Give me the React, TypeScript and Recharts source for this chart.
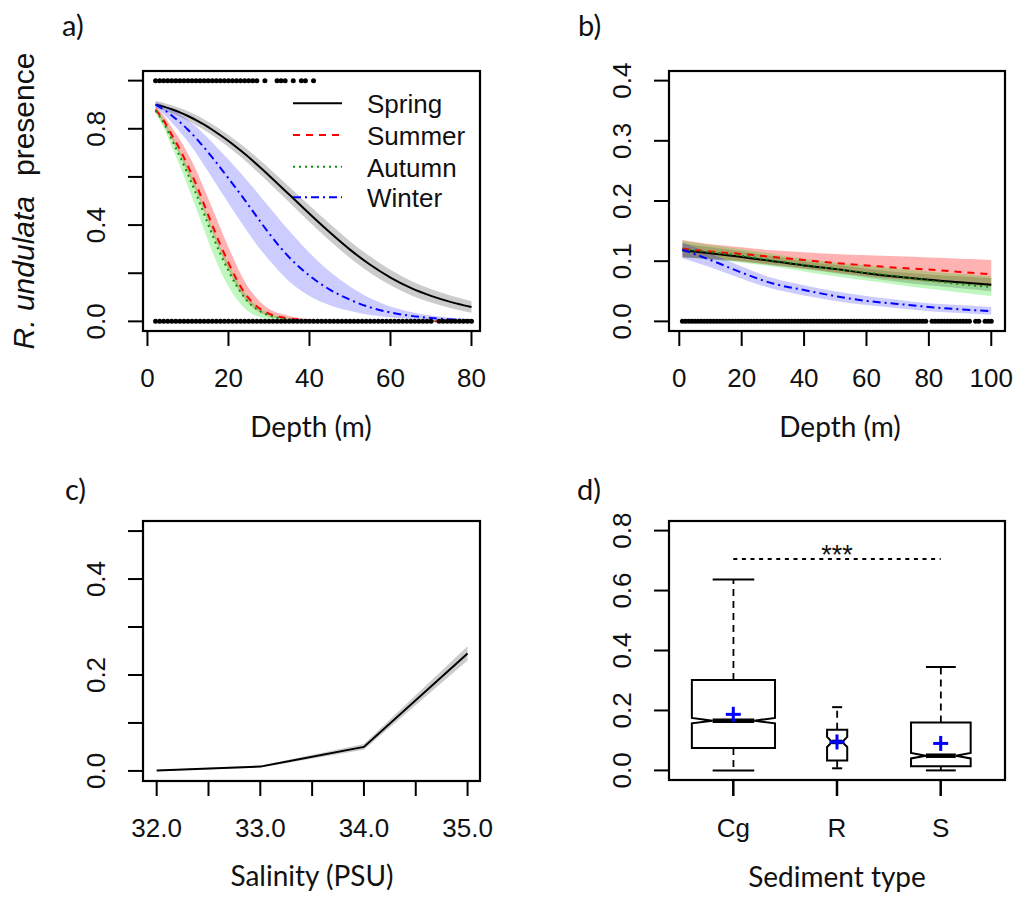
import React from 'react';
import {
  ComposedChart, Line, Area, Scatter, Bar, XAxis, YAxis, ReferenceLine,
} from 'recharts';

const SANS = '"Liberation Sans", Arial, sans-serif';
const CAL = 'Lato, "Open Sans", sans-serif';
const INK = '#111';

// ---------------- Panel a: depth response by season (0-80 m) ----------------
const depthA = [2, 4, 6, 8, 10, 12, 14, 16, 18, 20, 22, 24, 26, 28, 30, 35, 40, 45, 50, 55, 60, 65, 70, 75, 80];
const springA = [0.90, 0.892, 0.881, 0.868, 0.853, 0.836, 0.817, 0.796, 0.773, 0.749, 0.723, 0.696, 0.667, 0.637, 0.606, 0.527, 0.447, 0.37, 0.298, 0.235, 0.182, 0.139, 0.106, 0.08, 0.06];
const springLoA = [0.885, 0.876, 0.864, 0.85, 0.833, 0.815, 0.795, 0.773, 0.749, 0.724, 0.697, 0.669, 0.639, 0.608, 0.576, 0.495, 0.413, 0.335, 0.263, 0.201, 0.15, 0.109, 0.078, 0.055, 0.036];
const springHiA = [0.915, 0.908, 0.898, 0.886, 0.873, 0.857, 0.839, 0.819, 0.797, 0.774, 0.749, 0.723, 0.695, 0.666, 0.636, 0.559, 0.481, 0.405, 0.333, 0.269, 0.214, 0.169, 0.134, 0.106, 0.084];
const summerA = [0.88, 0.835, 0.775, 0.715, 0.645, 0.57, 0.485, 0.4, 0.318, 0.243, 0.175, 0.118, 0.078, 0.05, 0.032, 0.012, 0.005, 0.002, 0.001, 0, 0, 0, 0, 0, 0];
const summerLoA = [0.87, 0.82, 0.755, 0.69, 0.615, 0.54, 0.455, 0.37, 0.288, 0.213, 0.147, 0.094, 0.058, 0.035, 0.02, 0.006, 0.002, 0.001, 0, 0, 0, 0, 0, 0, 0];
const summerHiA = [0.89, 0.855, 0.805, 0.755, 0.695, 0.63, 0.55, 0.47, 0.388, 0.308, 0.233, 0.166, 0.116, 0.078, 0.052, 0.022, 0.009, 0.004, 0.002, 0.001, 0, 0, 0, 0, 0];
const autumnA = [0.875, 0.825, 0.755, 0.685, 0.61, 0.53, 0.445, 0.36, 0.28, 0.21, 0.148, 0.098, 0.063, 0.04, 0.025, 0.009, 0.003, 0.001, 0, 0, 0, 0, 0, 0, 0];
const autumnLoA = [0.865, 0.805, 0.725, 0.645, 0.56, 0.47, 0.38, 0.29, 0.21, 0.145, 0.093, 0.055, 0.03, 0.016, 0.009, 0.003, 0.001, 0, 0, 0, 0, 0, 0, 0, 0];
const autumnHiA = [0.885, 0.84, 0.775, 0.71, 0.64, 0.56, 0.475, 0.39, 0.31, 0.238, 0.174, 0.12, 0.08, 0.052, 0.033, 0.013, 0.005, 0.002, 0.001, 0, 0, 0, 0, 0, 0];
const winterA = [0.90, 0.88, 0.855, 0.828, 0.796, 0.761, 0.722, 0.681, 0.638, 0.594, 0.55, 0.505, 0.458, 0.411, 0.366, 0.266, 0.19, 0.132, 0.09, 0.058, 0.037, 0.023, 0.014, 0.008, 0.005];
const winterLoA = [0.888, 0.86, 0.825, 0.788, 0.746, 0.699, 0.647, 0.596, 0.543, 0.491, 0.44, 0.39, 0.341, 0.296, 0.256, 0.166, 0.105, 0.067, 0.043, 0.026, 0.016, 0.01, 0.006, 0.003, 0.002];
const winterHiA = [0.912, 0.898, 0.88, 0.86, 0.836, 0.809, 0.777, 0.743, 0.708, 0.672, 0.635, 0.597, 0.558, 0.516, 0.476, 0.376, 0.285, 0.207, 0.145, 0.096, 0.062, 0.039, 0.024, 0.015, 0.01];
const presenceDepthsA = [2, 3, 4, 5, 6, 7, 8, 9, 10, 11, 12, 13, 14, 15, 16, 17, 18, 19, 20, 21, 22, 23, 24, 25, 26, 27, 29, 32, 33, 34, 36, 38, 39, 41];
const absenceDepthsA = [2, 3, 4, 5, 6, 7, 8, 9, 10, 11, 12, 13, 14, 15, 16, 17, 18, 19, 20, 21, 22, 23, 24, 25, 26, 27, 28, 29, 30, 31, 32, 33, 34, 35, 36, 37, 38, 39, 40, 41, 42, 43, 44, 45, 46, 47, 48, 49, 50, 51, 52, 53, 54, 55, 56, 57, 58, 59, 60, 61, 62, 63, 64, 65, 66, 67, 68, 69, 70, 72, 73, 74, 75, 76, 77, 78, 79, 80];
const xTicksA = [0, 20, 40, 60, 80];
const yTicksA = [0, 0.2, 0.4, 0.6, 0.8, 1.0];
const yLabelsA = [0, 0.4, 0.8];

// ---------------- Panel b: depth response (0-100 m) ----------------
const depthB = [1, 10, 20, 30, 40, 50, 60, 70, 80, 90, 100];
const springB = [0.118, 0.113, 0.107, 0.100, 0.093, 0.087, 0.080, 0.074, 0.069, 0.065, 0.061];
const springLoB = [0.106, 0.103, 0.099, 0.093, 0.087, 0.080, 0.073, 0.066, 0.060, 0.055, 0.050];
const springHiB = [0.130, 0.123, 0.116, 0.108, 0.100, 0.094, 0.088, 0.082, 0.078, 0.075, 0.072];
const summerB = [0.121, 0.116, 0.112, 0.107, 0.102, 0.097, 0.093, 0.089, 0.086, 0.082, 0.078];
const summerLoB = [0.107, 0.104, 0.100, 0.094, 0.088, 0.081, 0.075, 0.070, 0.066, 0.062, 0.058];
const summerHiB = [0.135, 0.128, 0.123, 0.118, 0.115, 0.112, 0.110, 0.108, 0.106, 0.104, 0.102];
const autumnB = [0.120, 0.115, 0.109, 0.101, 0.094, 0.087, 0.081, 0.075, 0.068, 0.062, 0.057];
const autumnLoB = [0.106, 0.103, 0.098, 0.091, 0.083, 0.075, 0.068, 0.061, 0.054, 0.048, 0.042];
const autumnHiB = [0.134, 0.127, 0.120, 0.112, 0.104, 0.098, 0.093, 0.088, 0.083, 0.079, 0.075];
const winterB = [0.119, 0.102, 0.081, 0.063, 0.052, 0.042, 0.034, 0.029, 0.024, 0.020, 0.017];
const winterLoB = [0.105, 0.090, 0.071, 0.054, 0.043, 0.034, 0.027, 0.022, 0.017, 0.014, 0.011];
const winterHiB = [0.131, 0.113, 0.091, 0.072, 0.060, 0.050, 0.042, 0.036, 0.030, 0.027, 0.024];
const absenceDepthsB = [1, 2, 3, 4, 5, 6, 7, 8, 9, 10, 11, 12, 13, 14, 15, 16, 17, 18, 19, 20, 21, 22, 23, 24, 25, 26, 27, 28, 29, 30, 31, 32, 33, 34, 35, 36, 37, 38, 39, 40, 41, 42, 43, 44, 45, 46, 47, 48, 49, 50, 51, 52, 53, 54, 55, 56, 57, 58, 59, 60, 61, 62, 63, 64, 65, 66, 67, 68, 69, 70, 71, 72, 73, 74, 75, 76, 77, 78, 79, 81, 82, 83, 84, 85, 86, 87, 88, 89, 90, 91, 92, 93, 95, 96, 98, 99, 100];
const xTicksB = [0, 20, 40, 60, 80, 100];
const yTicksB = [0, 0.1, 0.2, 0.3, 0.4];

// ---------------- Panel c: salinity ----------------
const salinity = [32, 33, 34, 35];
const salFit = [0.001, 0.009, 0.05, 0.245];
const salLo = [0.0, 0.007, 0.044, 0.23];
const salHi = [0.002, 0.011, 0.056, 0.26];
const xTicksC = [32, 32.5, 33, 33.5, 34, 34.5, 35];
const xLabelsC = [32, 33, 34, 35];
const yTicksC = [0, 0.1, 0.2, 0.3, 0.4, 0.5];
const yLabelsC = [0, 0.2, 0.4];

// ---------------- Panel d: sediment boxplots ----------------
const sediments = ['Cg', 'R', 'S'];
const sedPos = [1, 2, 3];
const q1 = [0.075, 0.033, 0.014];
const q3 = [0.302, 0.136, 0.160];
const medians = [0.166, 0.095, 0.049];
const notchLo = [0.157, 0.078, 0.040];
const notchHi = [0.175, 0.112, 0.058];
const whiskLo = [0.0, 0.007, 0.0];
const whiskHi = [0.637, 0.211, 0.345];
const means = [0.187, 0.095, 0.090];
const boxWidthRatio = [0.99, 0.24, 0.71];
const sigLevel = 0.705;
const yTicksD = [0, 0.2, 0.4, 0.6, 0.8];

// ---------------- built data ----------------
const dataA = depthA.map((x, i) => ({
  x,
  spring: springA[i], springBand: [springLoA[i], springHiA[i]],
  summer: summerA[i], summerBand: [summerLoA[i], summerHiA[i]],
  autumn: autumnA[i], autumnBand: [autumnLoA[i], autumnHiA[i]],
  winter: winterA[i], winterBand: [winterLoA[i], winterHiA[i]],
}));
const ptsA = [
  ...presenceDepthsA.map((x) => ({ x, y: 1 })),
  ...absenceDepthsA.map((x) => ({ x, y: 0 })),
];
const dataB = depthB.map((x, i) => ({
  x,
  spring: springB[i], springBand: [springLoB[i], springHiB[i]],
  summer: summerB[i], summerBand: [summerLoB[i], summerHiB[i]],
  autumn: autumnB[i], autumnBand: [autumnLoB[i], autumnHiB[i]],
  winter: winterB[i], winterBand: [winterLoB[i], winterHiB[i]],
}));
const ptsB = absenceDepthsB.map((x) => ({ x, y: 0 }));
const dataC = salinity.map((x, i) => ({ x, fit: salFit[i], band: [salLo[i], salHi[i]] }));
const dataD = sediments.map((name, i) => ({
  pos: sedPos[i], name, box: [q1[i], q3[i]], q1: q1[i], q3: q3[i], median: medians[i],
  notchLo: notchLo[i], notchHi: notchHi[i], wLo: whiskLo[i], wHi: whiskHi[i], mean: means[i],
  ratio: boxWidthRatio[i],
}));
const sigData = [{ pos: 2, sig: sigLevel }];

// ---------------- styling ----------------
const COL = { spring: '#000000', summer: '#ff0000', autumn: '#0f8f0f', winter: '#0000ff' };
const BAND = {
  spring: { fill: '#000000', op: 0.2 },
  summer: { fill: '#ff0000', op: 0.3 },
  autumn: { fill: '#00e000', op: 0.25 },
  winter: { fill: '#0000ff', op: 0.2 },
};
const DASH = { spring: undefined as string | undefined, summer: '7 6', autumn: '2 4', winter: '8 4 2 4' };
const SEASONS: Array<'spring' | 'summer' | 'autumn' | 'winter'> = ['spring', 'summer', 'autumn', 'winter'];
const SEASON_NAMES = ['Spring', 'Summer', 'Autumn', 'Winter'];

const near = (v: number, arr: number[]) => arr.some((a) => Math.abs(a - v) < 1e-9);

const makeXTick = (fmt: (v: number) => string) => (props: any) => {
  const { x, y, payload } = props;
  const s = fmt(payload.value);
  return (
    <text x={x} y={y + 41} textAnchor="middle" fontFamily={SANS} fontSize={26} fill={INK}>{s}</text>
  );
};
const makeYTick = (fmt: (v: number) => string) => (props: any) => {
  const { x, y, payload } = props;
  const s = fmt(payload.value);
  const bx = x - 23;
  return (
    <text x={bx} y={y} transform={`rotate(-90 ${bx} ${y})`} textAnchor="middle" fontFamily={SANS} fontSize={26} fill={INK}>{s}</text>
  );
};

const Dot = (p: any) => <circle cx={p.cx} cy={p.cy} r={2.5} fill="#000" />;

const tickLineStyle = { stroke: '#000', strokeWidth: 2 };
const Y_W = 60;
const X_H = 60;

// plot-area frames (layout only; same numbers as the chart margins below)
const FRAMES = [
  { x: 143, y: 71, w: 337, h: 260 },
  { x: 669, y: 71, w: 336, h: 260 },
  { x: 143, y: 521, w: 337, h: 260 },
  { x: 669, y: 521, w: 336, h: 259 },
];

function seasonBands() {
  return SEASONS.map((s) => (
    <Area key={s + 'b'} type="monotone" dataKey={s + 'Band'} stroke="none" fill={BAND[s].fill}
      fillOpacity={BAND[s].op} isAnimationActive={false} dot={false} activeDot={false} />
  ));
}
function seasonLines() {
  return SEASONS.map((s) => (
    <Line key={s} type="monotone" dataKey={s} stroke={COL[s]} strokeWidth={2} strokeDasharray={DASH[s]}
      dot={false} activeDot={false} isAnimationActive={false} />
  ));
}

// ---------------- boxplot shapes ----------------
const BoxShape = (props: any) => {
  const { x, y, width, height, payload } = props;
  if (payload == null || x == null) return <g />;
  const top = Math.min(y, y + height);
  const h = Math.abs(height);
  const k = h / (payload.q3 - payload.q1);
  const py = (v: number) => top + (payload.q3 - v) * k;
  const cx = x + width / 2;
  const hw = (width * payload.ratio) / 2;
  const pm = py(payload.median);
  const path = [
    `M${cx - hw},${py(payload.q1)}`, `L${cx - hw},${py(payload.notchLo)}`, `L${cx - hw / 2},${pm}`,
    `L${cx - hw},${py(payload.notchHi)}`, `L${cx - hw},${py(payload.q3)}`, `L${cx + hw},${py(payload.q3)}`,
    `L${cx + hw},${py(payload.notchHi)}`, `L${cx + hw / 2},${pm}`, `L${cx + hw},${py(payload.notchLo)}`,
    `L${cx + hw},${py(payload.q1)}`, 'Z',
  ].join(' ');
  return (
    <g>
      <line x1={cx} x2={cx} y1={py(payload.q3)} y2={py(payload.wHi)} stroke="#000" strokeWidth={1.8} strokeDasharray="7 5" />
      <line x1={cx} x2={cx} y1={py(payload.q1)} y2={py(payload.wLo)} stroke="#000" strokeWidth={1.8} strokeDasharray="7 5" />
      <line x1={cx - hw / 2} x2={cx + hw / 2} y1={py(payload.wHi)} y2={py(payload.wHi)} stroke="#000" strokeWidth={2} />
      <line x1={cx - hw / 2} x2={cx + hw / 2} y1={py(payload.wLo)} y2={py(payload.wLo)} stroke="#000" strokeWidth={2} />
      <path d={path} fill="#fff" stroke="#000" strokeWidth={2} strokeLinejoin="miter" />
      <line x1={cx - hw / 2} x2={cx + hw / 2} y1={pm} y2={pm} stroke="#000" strokeWidth={4.5} />
    </g>
  );
};
const CrossShape = (p: any) => (
  <g>
    <line x1={p.cx - 7.5} x2={p.cx + 7.5} y1={p.cy} y2={p.cy} stroke="#0000ff" strokeWidth={3} />
    <line x1={p.cx} x2={p.cx} y1={p.cy - 7.5} y2={p.cy + 7.5} stroke="#0000ff" strokeWidth={3} />
  </g>
);
const SigShape = (p: any) => (
  <text x={p.cx} y={p.cy + 5} textAnchor="middle" fontFamily={SANS} fontSize={27} fill={INK}>***</text>
);

// ---------------- domains ----------------
const xdA = [-1.1, 82.1];
const ydA = [-0.04, 1.04];
const xdB = [-3.3, 104.4];
const ydB = [-0.016, 0.416];
const xdC = [31.868, 35.12];
const ydC = [-0.021, 0.521];
const xdD = [0.38, 3.62];
const ydD = [-0.032, 0.832];

const panelStyle = (left: number, top: number): React.CSSProperties => ({ position: 'absolute', left, top });

export default function App() {
  return (
    <div style={{ position: 'absolute', left: 0, top: 0, width: 1016, height: 897, background: '#fff', overflow: 'hidden' }}>
      {/* a */}
      <div style={panelStyle(0, 0)}>
        <ComposedChart width={508} height={448} data={dataA} margin={{ top: 71, right: 28, bottom: 448 - 331 - X_H, left: 143 - Y_W }}>
          <XAxis dataKey="x" type="number" domain={xdA} allowDataOverflow ticks={xTicksA} interval={0}
            axisLine={false} tickLine={tickLineStyle} tickSize={15} tickMargin={0} height={X_H}
            tick={makeXTick((v) => String(v))} />
          <YAxis type="number" domain={ydA} allowDataOverflow ticks={yTicksA} interval={0}
            axisLine={false} tickLine={tickLineStyle} tickSize={15} tickMargin={0} width={Y_W}
            tick={makeYTick((v) => (near(v, yLabelsA) ? v.toFixed(1) : ''))} />
          {seasonBands()}
          <Scatter data={ptsA} dataKey="y" shape={Dot} isAnimationActive={false} />
          {seasonLines()}
        </ComposedChart>
      </div>
      {/* b */}
      <div style={panelStyle(508, 0)}>
        <ComposedChart width={508} height={448} data={dataB} margin={{ top: 71, right: 11, bottom: 448 - 331 - X_H, left: 161 - Y_W }}>
          <XAxis dataKey="x" type="number" domain={xdB} allowDataOverflow ticks={xTicksB} interval={0}
            axisLine={false} tickLine={tickLineStyle} tickSize={15} tickMargin={0} height={X_H}
            tick={makeXTick((v) => String(v))} />
          <YAxis type="number" domain={ydB} allowDataOverflow ticks={yTicksB} interval={0}
            axisLine={false} tickLine={tickLineStyle} tickSize={15} tickMargin={0} width={Y_W}
            tick={makeYTick((v) => v.toFixed(1))} />
          {seasonBands()}
          <Scatter data={ptsB} dataKey="y" shape={Dot} isAnimationActive={false} />
          {seasonLines()}
        </ComposedChart>
      </div>
      {/* c */}
      <div style={panelStyle(0, 450)}>
        <ComposedChart width={508} height={447} data={dataC} margin={{ top: 71, right: 28, bottom: 447 - 331 - X_H, left: 143 - Y_W }}>
          <XAxis dataKey="x" type="number" domain={xdC} allowDataOverflow ticks={xTicksC} interval={0}
            axisLine={false} tickLine={tickLineStyle} tickSize={15} tickMargin={0} height={X_H}
            tick={makeXTick((v) => (near(v, xLabelsC) ? v.toFixed(1) : ''))} />
          <YAxis type="number" domain={ydC} allowDataOverflow ticks={yTicksC} interval={0}
            axisLine={false} tickLine={tickLineStyle} tickSize={15} tickMargin={0} width={Y_W}
            tick={makeYTick((v) => (near(v, yLabelsC) ? v.toFixed(1) : ''))} />
          <Area type="linear" dataKey="band" stroke="none" fill="#000" fillOpacity={0.2} isAnimationActive={false} dot={false} activeDot={false} />
          <Line type="linear" dataKey="fit" stroke="#000" strokeWidth={2} dot={false} activeDot={false} isAnimationActive={false} />
        </ComposedChart>
      </div>
      {/* d */}
      <div style={panelStyle(508, 450)}>
        <ComposedChart width={508} height={447} data={dataD} margin={{ top: 71, right: 11, bottom: 447 - 330 - X_H, left: 161 - Y_W }}>
          <XAxis dataKey="pos" type="number" domain={xdD} allowDataOverflow ticks={sedPos} interval={0}
            axisLine={false} tickLine={{ stroke: '#000', strokeWidth: 2.5 }} tickSize={16} tickMargin={0} height={X_H}
            tick={makeXTick((v) => sediments[Math.round(v) - 1] ?? '')} />
          <YAxis type="number" domain={ydD} allowDataOverflow ticks={yTicksD} interval={0}
            axisLine={false} tickLine={tickLineStyle} tickSize={15} tickMargin={0} width={Y_W}
            tick={makeYTick((v) => v.toFixed(1))} />
          <Bar dataKey="box" barSize={84} shape={BoxShape} isAnimationActive={false} />
          <Scatter dataKey="mean" shape={CrossShape} isAnimationActive={false} />
          <ReferenceLine segment={[{ x: 1, y: sigLevel }, { x: 3, y: sigLevel }]} stroke="#000" strokeWidth={2}
            strokeDasharray="4 4.6" ifOverflow="visible" />
          <Scatter data={sigData} dataKey="sig" shape={SigShape} isAnimationActive={false} />
        </ComposedChart>
      </div>

      {/* frames, titles, panel letters, legend */}
      <svg width={1016} height={897} style={{ position: 'absolute', left: 0, top: 0, pointerEvents: 'none' }}>
        {FRAMES.map((f, i) => (
          <rect key={i} x={f.x} y={f.y} width={f.w} height={f.h} fill="none" stroke="#000000" strokeWidth={2.2} />
        ))}
        <g fontFamily={CAL} fontSize={29} fill={INK}>
          <text x={62} y={36}>a)</text>
          <text x={578} y={36}>b)</text>
          <text x={65} y={500}>c)</text>
          <text x={577} y={500}>d)</text>
        </g>
        <g fontFamily={CAL} fontSize={28} fill={INK} textAnchor="middle">
          <text x={311} y={437}>Depth (m)</text>
          <text x={840} y={437}>Depth (m)</text>
          <text x={312} y={886}>Salinity (PSU)</text>
          <text x={837} y={887}>Sediment type</text>
        </g>
        <text x={34} y={201} transform="rotate(-90 34 201)" textAnchor="middle" fontFamily={SANS} fontSize={30} fill={INK}>
          <tspan fontStyle="italic">R. undulata</tspan>
          <tspan dx={20}>presence</tspan>
        </text>
        <g fontFamily={SANS} fontSize={26} fill={INK}>
          {SEASONS.map((s, i) => {
            const ly = [103.3, 135, 166.7, 197.3][i];
            return (
              <g key={s}>
                <line x1={293} x2={342} y1={ly} y2={ly} stroke={COL[s]} strokeWidth={2} strokeDasharray={DASH[s]} />
                <text x={367} y={ly + 10}>{SEASON_NAMES[i]}</text>
              </g>
            );
          })}
        </g>
      </svg>
    </div>
  );
}
